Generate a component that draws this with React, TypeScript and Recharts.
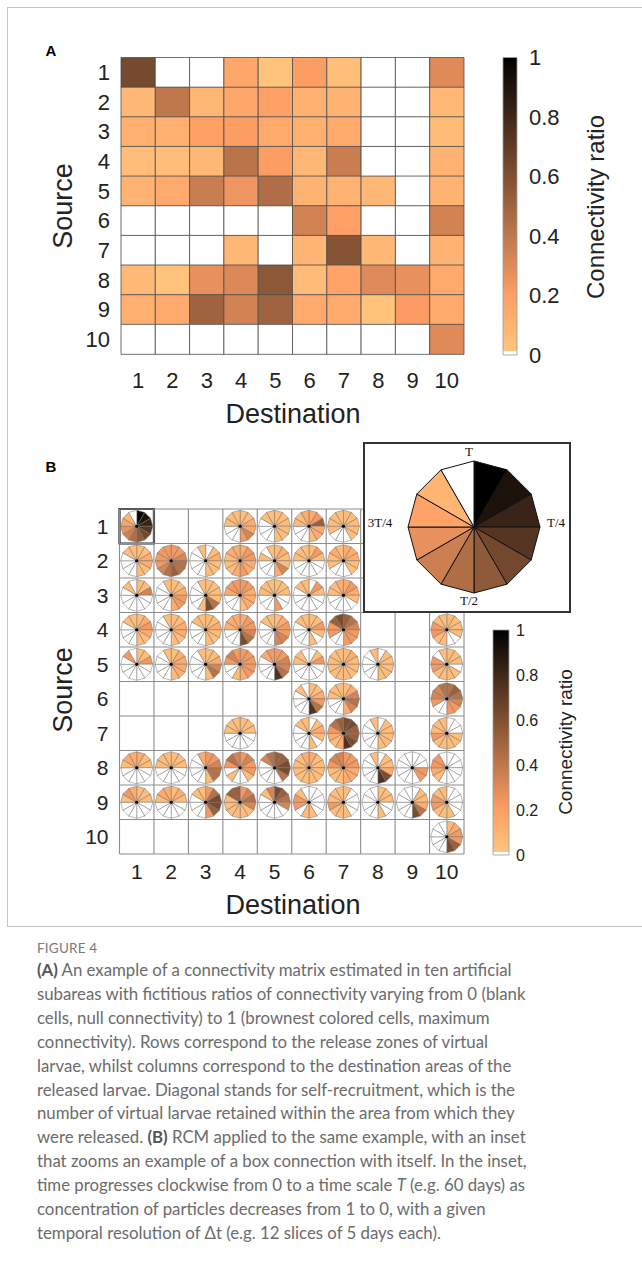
import React from 'react'
import {
  BarChart, Bar, Cell, XAxis, YAxis, ScatterChart, Scatter,
  ReferenceLine, ReferenceArea, PieChart, Pie,
} from 'recharts'

// zones 1..10 (rows = source, columns = destination)
const zones = ['1', '2', '3', '4', '5', '6', '7', '8', '9', '10']

// panel A: connectivity ratio, one array per source row
const heatRow1 = [0.63, 0, 0, 0.16, 0.02, 0.21, 0.04, 0, 0, 0.3]
const heatRow2 = [0.08, 0.4, 0.08, 0.16, 0.19, 0.11, 0.1, 0, 0, 0.07]
const heatRow3 = [0.12, 0.12, 0.19, 0.21, 0.15, 0.12, 0.15, 0, 0, 0.06]
const heatRow4 = [0.05, 0.05, 0.08, 0.42, 0.21, 0.08, 0.37, 0, 0, 0.1]
const heatRow5 = [0.1, 0.15, 0.37, 0.25, 0.45, 0.1, 0.1, 0.08, 0, 0.1]
const heatRow6 = [0, 0, 0, 0, 0, 0.34, 0.2, 0, 0, 0.34]
const heatRow7 = [0, 0, 0, 0.08, 0, 0.09, 0.58, 0.08, 0, 0.1]
const heatRow8 = [0.07, 0.02, 0.27, 0.31, 0.56, 0.06, 0.18, 0.3, 0.27, 0.15]
const heatRow9 = [0.12, 0.15, 0.5, 0.34, 0.5, 0.15, 0.15, 0.02, 0.22, 0.15]
const heatRow10 = [0, 0, 0, 0, 0, 0, 0, 0, 0, 0.3]

const cbTicks = [0, 0.2, 0.4, 0.6, 0.8, 1]

// inset: box 1 with itself, 12 time slices clockwise from 0 to T
const insetSlices = [1, 0.91, 0.82, 0.73, 0.64, 0.55, 0.45, 0.36, 0.27, 0.18, 0.09, 0]
const insetLabels = ['T', 'T/4', 'T/2', '3T/4']

// panel B: each pie = 12 slices clockwise from the top, read as levels 0..9
const sliceLevels = [0, 0.05, 0.14, 0.23, 0.33, 0.43, 0.52, 0.62, 0.75, 0.9]
const rcmRow1 = ['inset', '', '', '112243000111', '111111000011', '236221000112', '111110001111', '', '', '']
const rcmRow2 = ['112211000011', '334556543333', '012111000001', '233223211122', '121142000101', '131000000111', '222110001121', '', '', '']
const rcmRow3 = ['114000000010', '112332000001', '111157100001', '332221000233', '111003000111', '031000000011', '232100000112', '', '', '']
const rcmRow4 = ['123211000011', '112211000001', '112111000011', '233457000222', '123344000011', '113101000011', '654333003367', '', '', '111100113311']
const rcmRow5 = ['113000000030', '122221000001', '112451000001', '333332100343', '334458000023', '013000000110', '121111111111', '011111000001', '', '111011113301']
const rcmRow6 = ['', '', '', '', '', '112358000010', '124542000111', '', '', '565433003445']
const rcmRow7 = ['', '', '', '111000000111', '', '012101000011', '776678212356', '011111000001', '', '000111113111']
const rcmRow8 = ['211000000122', '111000000111', '334551000002', '343310010354', '667750000045', '211111111112', '333222111344', '011278000001', '000330000000', '000000012330']
const rcmRow9 = ['111000000132', '121000000122', '357763000011', '345411111166', '765400000014', '000001103310', '100001113111', '111001000000', '011257000000', '000001113311']
const rcmRow10 = ['', '', '', '', '', '', '', '', '', '123367000000']

const heat = [heatRow1, heatRow2, heatRow3, heatRow4, heatRow5, heatRow6, heatRow7, heatRow8, heatRow9, heatRow10]
const rcm = [rcmRow1, rcmRow2, rcmRow3, rcmRow4, rcmRow5, rcmRow6, rcmRow7, rcmRow8, rcmRow9, rcmRow10]

// flipped copper colormap, white for null
function copper(v: number) {
  if (v <= 0.005) return '#ffffff'
  const x = 1 - v
  const r = Math.round(Math.min(1, 1.25 * x) * 255)
  const g = Math.round(0.7812 * x * 255)
  const b = Math.round(0.4975 * x * 255)
  return `rgb(${r},${g},${b})`
}

const FONT = '"Liberation Sans", Arial, Helvetica, sans-serif'
const INK = '#222'

const heatData = heat.map((row, i) => {
  const o: any = { src: zones[i] }
  row.forEach((_, j) => { o['c' + j] = 1 })
  return o
})
const heatTicks = zones.map((_, i) => i + 0.5)

const pieData: any[] = []
rcm.forEach((row, i) => row.forEach((code, j) => {
  if (!code) return
  const slices = code === 'inset' ? insetSlices : code.split('').map(c => sliceLevels[+c])
  pieData.push({ col: j + 1, row: i + 1, slices })
}))
const edges = zones.map((_, i) => i + 0.5).concat([10.5])
const zoneNums = zones.map(z => +z)

const gradStops = [1, 0.9, 0.8, 0.7, 0.6, 0.5, 0.4, 0.3, 0.2, 0.1, 0.015]
const cbData = [{ k: 'ratio', v: 1 }]

const RAD = Math.PI / 180
function slicePath(cx: number, cy: number, r: number, a0: number, a1: number) {
  // angles in recharts convention (deg, counter-clockwise from 3 o'clock)
  const x0 = cx + r * Math.cos(-a0 * RAD), y0 = cy + r * Math.sin(-a0 * RAD)
  const x1 = cx + r * Math.cos(-a1 * RAD), y1 = cy + r * Math.sin(-a1 * RAD)
  return `M${cx},${cy}L${x0},${y0}L${x1},${y1}Z`
}

function RcmPie(props: any) {
  const { cx, cy, payload } = props
  const n = payload.slices.length
  return (
    <g>
      {payload.slices.map((v: number, k: number) => (
        <path key={k} d={slicePath(cx, cy, 16, 90 - (360 / n) * k, 90 - (360 / n) * (k + 1))}
          fill={copper(v)} stroke="#6e6e6e" strokeWidth={0.5} />
      ))}
      <circle cx={cx} cy={cy} r={1.6} fill="#000" />
    </g>
  )
}

function PolySlice(props: any) {
  const { cx, cy, outerRadius, startAngle, endAngle, fill } = props
  return <path d={slicePath(cx, cy, outerRadius, startAngle, endAngle)} fill={fill} stroke="#111" strokeWidth={1} />
}

function Txt({ x, y, size, children, rotate, style }: any) {
  return (
    <div style={{
      position: 'absolute', left: x, top: y, fontFamily: FONT, fontSize: size, color: INK,
      whiteSpace: 'nowrap', lineHeight: 1, transform: `translate(-50%,-50%)${rotate ? ' rotate(-90deg)' : ''}`, ...style,
    }}>{children}</div>
  )
}

const captionLines = [
  [['(A)', true], [' An example of a connectivity matrix estimated in ten artificial', false]],
  [['subareas with fictitious ratios of connectivity varying from 0 (blank', false]],
  [['cells, null connectivity) to 1 (brownest colored cells, maximum', false]],
  [['connectivity). Rows correspond to the release zones of virtual', false]],
  [['larvae, whilst columns correspond to the destination areas of the', false]],
  [['released larvae. Diagonal stands for self-recruitment, which is the', false]],
  [['number of virtual larvae retained within the area from which they', false]],
  [['were released. ', false], ['(B)', true], [' RCM applied to the same example, with an inset', false]],
  [['that zooms an example of a box connection with itself. In the inset,', false]],
  [['time progresses clockwise from 0 to a time scale ', false], ['T', 'i'], [' (e.g. 60 days) as', false]],
  [['concentration of particles decreases from 1 to 0, with a given', false]],
  [['temporal resolution of \u0394t (e.g. 12 slices of 5 days each).', false]],
]

export default function App() {
  const tickStyle = { fontSize: 22, fill: INK, fontFamily: FONT }
  return (
    <div style={{ position: 'absolute', left: 0, top: 0, width: 642, height: 1267, background: '#fff', overflow: 'hidden' }}>
      <div style={{ position: 'absolute', left: 7, top: 7, width: 640, height: 918, border: '1px solid #c4c4c4' }} />

      {/* panel A heatmap */}
      <div style={{ position: 'absolute', left: 0, top: 0 }}>
        <BarChart width={480} height={430} data={heatData} layout="vertical" barCategoryGap={0}
          margin={{ top: 57.5, right: 16, bottom: 46, left: 91 }}>
          <XAxis type="number" domain={[0, 10]} ticks={heatTicks} tickFormatter={(v: number) => String(v + 0.5)}
            axisLine={false} tickLine={false} tickSize={0} tickMargin={18} height={30} tick={tickStyle} interval={0} />
          <YAxis type="category" dataKey="src" width={30} axisLine={false} tickLine={false} tickSize={0}
            tickMargin={11} tick={tickStyle} interval={0} />
          {zones.map((_, j) => (
            <Bar key={j} dataKey={'c' + j} stackId="h" isAnimationActive={false} stroke="#4d4d4d" strokeWidth={0.8}>
              {heat.map((row, i) => <Cell key={i} fill={copper(row[j])} />)}
            </Bar>
          ))}
        </BarChart>
      </div>

      {/* panel A colorbar */}
      <div style={{ position: 'absolute', left: 0, top: 0 }}>
        <BarChart width={600} height={400} data={cbData} barCategoryGap={0}
          margin={{ top: 57.5, right: 43, bottom: 45, left: 503 }}>
          <defs>
            <linearGradient id="cbA" x1="0" y1="0" x2="0" y2="1">
              {gradStops.map(v => <stop key={v} offset={`${(1 - v) * 100}%`} stopColor={copper(v)} />)}
              <stop offset="98.5%" stopColor="#ffffff" />
              <stop offset="100%" stopColor="#ffffff" />
            </linearGradient>
          </defs>
          <XAxis dataKey="k" type="category" hide />
          <YAxis orientation="right" type="number" domain={[0, 1]} ticks={cbTicks} interval={0}
            tickFormatter={(v: number) => String(v)} axisLine={false} tickLine={false} tickSize={0}
            tickMargin={12} width={40} tick={tickStyle} />
          <Bar dataKey="v" fill="url(#cbA)" stroke="#9a9a9a" strokeWidth={0.8} isAnimationActive={false} />
        </BarChart>
      </div>

      <Txt x={51} y={50} size={15} style={{ fontWeight: 700, color: '#000' }}>A</Txt>
      <Txt x={63} y={206} size={27} rotate>Source</Txt>
      <Txt x={293} y={414} size={27}>Destination</Txt>
      <Txt x={596} y={207} size={24} rotate>Connectivity ratio</Txt>

      {/* panel B RCM grid */}
      <div style={{ position: 'absolute', left: 0, top: 440 }}>
        <ScatterChart width={480} height={480} margin={{ top: 69, right: 16, bottom: 36, left: 89.5 }}>
          <XAxis type="number" dataKey="col" domain={[0.5, 10.5]} ticks={zoneNums} interval={0}
            axisLine={false} tickLine={false} tickSize={0} tickMargin={10} height={30}
            tick={{ ...tickStyle, fontSize: 21 }} />
          <YAxis type="number" dataKey="row" domain={[0.5, 10.5]} ticks={zoneNums} interval={0} reversed
            axisLine={false} tickLine={false} tickSize={0} tickMargin={11} width={30}
            tick={{ ...tickStyle, fontSize: 21 }} />
          {edges.map(e => <ReferenceLine key={'x' + e} x={e} stroke="#8c8c8c" strokeWidth={1.1} />)}
          {edges.map(e => <ReferenceLine key={'y' + e} y={e} stroke="#8c8c8c" strokeWidth={1.1} />)}
          <ReferenceArea x1={0.5} x2={1.5} y1={0.5} y2={1.5} fill="none" stroke="#262626" strokeWidth={2.2} />
          <Scatter data={pieData} shape={RcmPie} isAnimationActive={false} />
        </ScatterChart>
      </div>

      {/* panel B colorbar */}
      <div style={{ position: 'absolute', left: 0, top: 0 }}>
        <BarChart width={600} height={900} data={cbData} barCategoryGap={0}
          margin={{ top: 630, right: 51, bottom: 45, left: 493 }}>
          <defs>
            <linearGradient id="cbB" x1="0" y1="0" x2="0" y2="1">
              {gradStops.map(v => <stop key={v} offset={`${(1 - v) * 100}%`} stopColor={copper(v)} />)}
              <stop offset="98.5%" stopColor="#ffffff" />
              <stop offset="100%" stopColor="#ffffff" />
            </linearGradient>
          </defs>
          <XAxis dataKey="k" type="category" hide />
          <YAxis orientation="right" type="number" domain={[0, 1]} ticks={cbTicks} interval={0}
            tickFormatter={(v: number) => String(v)} axisLine={false} tickLine={false} tickSize={0}
            tickMargin={7} width={40} tick={{ ...tickStyle, fontSize: 16 }} />
          <Bar dataKey="v" fill="url(#cbB)" stroke="#9a9a9a" strokeWidth={0.8} isAnimationActive={false} />
        </BarChart>
      </div>

      {/* inset */}
      <div style={{
        position: 'absolute', left: 363, top: 442, width: 208, height: 171, boxSizing: 'border-box',
        border: '2px solid #333', background: '#fff',
      }}>
        <PieChart width={204} height={167}>
          <Pie data={insetSlices.map(v => ({ v, w: 1 }))} dataKey="w" cx={104} cy={78} outerRadius={66}
            startAngle={90} endAngle={-270} stroke="#111" strokeWidth={1} isAnimationActive={false}
            shape={PolySlice} label={false} labelLine={false}>
            {insetSlices.map((v, i) => <Cell key={i} fill={copper(v)} />)}
          </Pie>
        </PieChart>
        {[[104, 7], [191, 78], [104, 156], [15, 78]].map(([x, y], i) => (
          <Txt key={i} x={x} y={y} size={13} style={{ fontFamily: '"Liberation Serif", "Times New Roman", serif', color: '#111' }}>
            {insetLabels[i]}
          </Txt>
        ))}
      </div>

      <Txt x={51} y={466} size={15} style={{ fontWeight: 700, color: '#000' }}>B</Txt>
      <Txt x={63} y={690} size={27} rotate>Source</Txt>
      <Txt x={293} y={905} size={27}>Destination</Txt>
      <Txt x={565} y={742} size={19} rotate>Connectivity ratio</Txt>

      {/* caption */}
      <div style={{ position: 'absolute', left: 37, top: 940, fontFamily: 'Lato, "Open Sans", sans-serif', color: '#6b6b6b' }}>
        <div style={{ fontSize: 13.5, lineHeight: '16px', letterSpacing: 0.2, color: '#7a7a7a' }}>FIGURE 4</div>
        <div style={{ fontSize: 16.8, lineHeight: '23.9px', marginTop: 2 }}>
          {captionLines.map((line, i) => (
            <div key={i} style={{ whiteSpace: 'nowrap' }}>
              {line.map(([t, b], k) => (
                <span key={k} style={b === true ? { fontWeight: 700, color: '#555' } : b === 'i' ? { fontStyle: 'italic' } : undefined}>{t as string}</span>
              ))}
            </div>
          ))}
        </div>
      </div>
    </div>
  )
}
